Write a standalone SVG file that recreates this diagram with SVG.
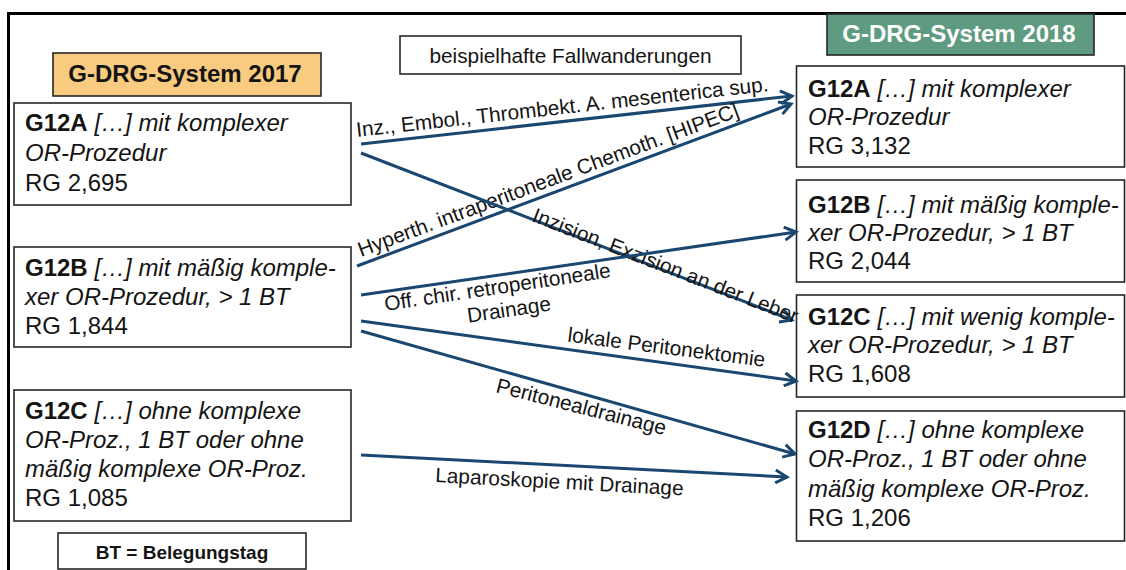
<svg xmlns="http://www.w3.org/2000/svg" width="1126" height="570" viewBox="0 0 1126 570">
  <style>
    text { font-family: "Liberation Sans", Arial, sans-serif; fill: #141414; }
    .node { fill: #ffffff; stroke: #262626; stroke-width: 1.6; }
    .nt { font-size: 24px; }
    .b { font-weight: bold; font-style: normal; }
    .i { font-style: italic; }
    .title { font-size: 24px; font-weight: bold; text-anchor: middle; }
    .edge { stroke: #19476f; stroke-width: 3; fill: none; marker-end: url(#arrow); }
    .lbl { font-size: 20.8px; }
  </style>
  <defs>
    <marker id="arrow" markerUnits="userSpaceOnUse" markerWidth="16" markerHeight="16" viewBox="0 0 16 16" refX="13" refY="8" orient="auto">
      <path d="M1.5,1.5 L13,8 L1.5,14.5" fill="none" stroke="#19476f" stroke-width="3" stroke-linejoin="miter"/>
    </marker>
  </defs>

  <rect width="1126" height="570" fill="#ffffff"/>

  <!-- slide frame: top and left edges -->
  <path d="M8.5,570 V13.5 H1126" fill="none" stroke="#000000" stroke-width="3"/>

  <!-- column headers -->
  <g id="header-2017">
    <rect x="53" y="53" width="268" height="43" fill="#f8cb80" stroke="#262626" stroke-width="1.6"/>
    <text class="title" x="185" y="82">G-DRG-System 2017</text>
  </g>
  <g id="header-2018">
    <rect x="827" y="14" width="267" height="41" fill="#5f9b80" stroke="#262626" stroke-width="1.6"/>
    <text class="title" x="959" y="42" style="fill:#ffffff">G-DRG-System 2018</text>
  </g>
  <g id="caption">
    <rect x="400" y="36" width="341" height="38" fill="#ffffff" stroke="#262626" stroke-width="1.6"/>
    <text x="570.5" y="63" font-size="20.8" text-anchor="middle">beispielhafte Fallwanderungen</text>
  </g>

  <!-- 2017 groups -->
  <g id="old-G12A">
    <rect class="node" x="14" y="103" width="337" height="102"/>
    <text class="nt" x="25" y="131"><tspan class="b">G12A</tspan> <tspan class="i">[…] mit komplexer</tspan></text>
    <text class="nt i" x="25" y="161">OR-Prozedur</text>
    <text class="nt" x="25" y="191">RG 2,695</text>
  </g>
  <g id="old-G12B">
    <rect class="node" x="14" y="247" width="337" height="100"/>
    <text class="nt" x="25" y="276"><tspan class="b">G12B</tspan> <tspan class="i">[…] mit mäßig komple-</tspan></text>
    <text class="nt i" x="25" y="305">xer OR-Prozedur, &gt; 1 BT</text>
    <text class="nt" x="25" y="334">RG 1,844</text>
  </g>
  <g id="old-G12C">
    <rect class="node" x="14" y="390" width="337" height="131"/>
    <text class="nt" x="25" y="419"><tspan class="b">G12C</tspan> <tspan class="i">[…] ohne komplexe</tspan></text>
    <text class="nt i" x="25" y="448">OR-Proz., 1 BT oder ohne</text>
    <text class="nt i" x="25" y="477">mäßig komplexe OR-Proz.</text>
    <text class="nt" x="25" y="506">RG 1,085</text>
  </g>
  <g id="legend">
    <rect x="58" y="533" width="248" height="36" fill="#ffffff" stroke="#262626" stroke-width="1.6"/>
    <text x="182" y="559" font-size="19" font-weight="bold" text-anchor="middle">BT = Belegungstag</text>
  </g>

  <!-- 2018 groups -->
  <g id="new-G12A">
    <rect class="node" x="796.5" y="66" width="328" height="101"/>
    <text class="nt" x="808" y="97"><tspan class="b">G12A</tspan> <tspan class="i">[…] mit komplexer</tspan></text>
    <text class="nt i" x="808" y="125">OR-Prozedur</text>
    <text class="nt" x="808" y="154">RG 3,132</text>
  </g>
  <g id="new-G12B">
    <rect class="node" x="796.5" y="180" width="328" height="102"/>
    <text class="nt" x="808" y="213"><tspan class="b">G12B</tspan> <tspan class="i">[…] mit mäßig komple-</tspan></text>
    <text class="nt i" x="808" y="241">xer OR-Prozedur, &gt; 1 BT</text>
    <text class="nt" x="808" y="269">RG 2,044</text>
  </g>
  <g id="new-G12C">
    <rect class="node" x="796.5" y="295" width="328" height="102"/>
    <text class="nt" x="808" y="325"><tspan class="b">G12C</tspan> <tspan class="i">[…] mit wenig komple-</tspan></text>
    <text class="nt i" x="808" y="353">xer OR-Prozedur, &gt; 1 BT</text>
    <text class="nt" x="808" y="382">RG 1,608</text>
  </g>
  <g id="new-G12D">
    <rect class="node" x="796.5" y="411" width="328" height="130"/>
    <text class="nt" x="808" y="438"><tspan class="b">G12D</tspan> <tspan class="i">[…] ohne komplexe</tspan></text>
    <text class="nt i" x="808" y="467">OR-Proz., 1 BT oder ohne</text>
    <text class="nt i" x="808" y="496.5">mäßig komplexe OR-Proz.</text>
    <text class="nt" x="808" y="525.5">RG 1,206</text>
  </g>

  <!-- case migrations -->
  <g id="connectors">
    <g id="e-A-A">
      <line class="edge" x1="361" y1="144" x2="792" y2="96"/>
      <text class="lbl" x="357" y="137" transform="rotate(-6.37 357 137)">Inz., Embol., Thrombekt. A. mesenterica sup.</text>
    </g>
    <g id="e-B-A">
      <line class="edge" x1="357" y1="266" x2="791" y2="104"/>
      <text class="lbl" x="361" y="257" transform="rotate(-20.4 361 257)">Hyperth. intraperitoneale Chemoth. [HIPEC]</text>
    </g>
    <g id="e-A-C">
      <line class="edge" x1="361" y1="153" x2="792" y2="320"/>
      <text class="lbl" x="531" y="221" transform="rotate(21.2 531 221)">Inzision, Exzision an der Leber</text>
    </g>
    <g id="e-B-B">
      <line class="edge" x1="361" y1="295" x2="796" y2="232"/>
      <text class="lbl" text-anchor="middle" transform="translate(498.5 294) rotate(-8.5)"><tspan x="0" y="0">Off. chir. retroperitoneale</tspan><tspan x="8" y="24">Drainage</tspan></text>
    </g>
    <g id="e-B-C">
      <line class="edge" x1="361" y1="321" x2="796" y2="381"/>
      <text class="lbl" x="567" y="341.5" transform="rotate(7.3 567 341.5)">lokale Peritonektomie</text>
    </g>
    <g id="e-B-D">
      <line class="edge" x1="361" y1="331" x2="795" y2="454"/>
      <text class="lbl" x="495" y="392" transform="rotate(14.3 495 392)">Peritonealdrainage</text>
    </g>
    <g id="e-C-D">
      <line class="edge" x1="361" y1="455" x2="787" y2="477"/>
      <text class="lbl" x="435" y="482" transform="rotate(3.1 435 482)">Laparoskopie mit Drainage</text>
    </g>
  </g>
</svg>
